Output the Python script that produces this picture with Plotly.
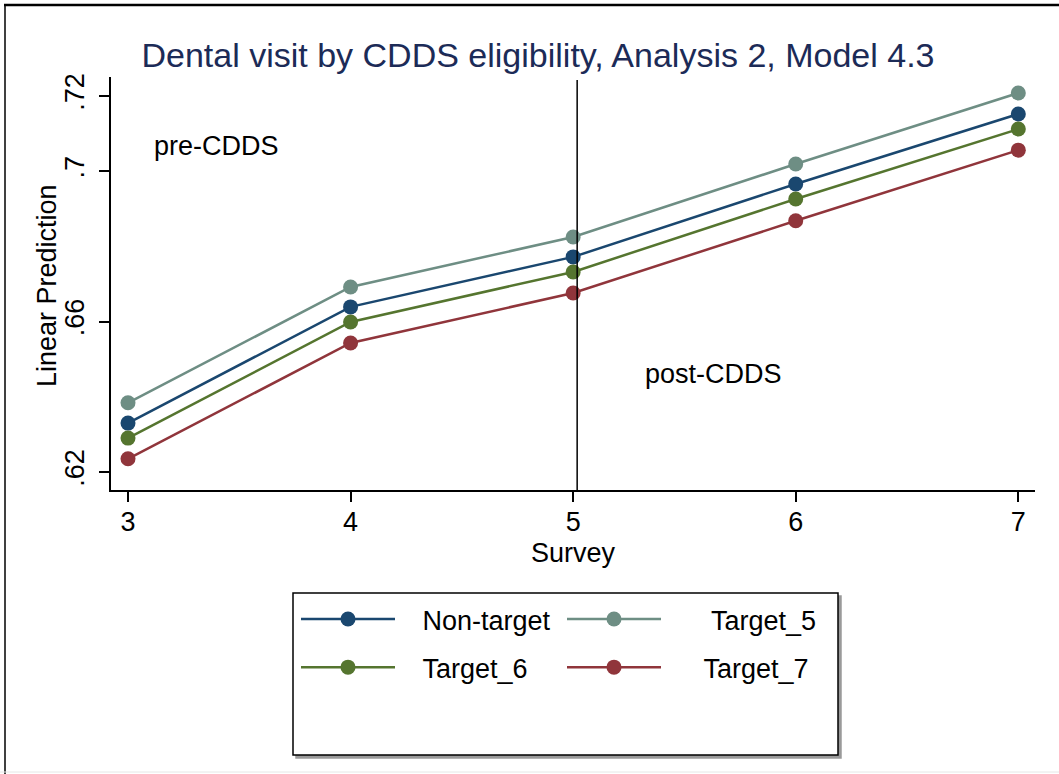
import plotly.graph_objects as go

surveys = [3, 4, 5, 6, 7]
non_target = [0.6330, 0.6639, 0.6772, 0.6966, 0.7152]
target_5 = [0.6384, 0.6692, 0.6825, 0.7019, 0.7208]
target_6 = [0.6290, 0.6599, 0.6732, 0.6926, 0.7112]
target_7 = [0.6235, 0.6543, 0.6676, 0.6868, 0.7056]
y_tickvals = [0.62, 0.66, 0.70, 0.72]
y_ticktext = [".62", ".66", ".7", ".72"]
x_tickvals = [3, 4, 5, 6, 7]
cutoff_survey = 5.018

W, H = 1059, 774
L, R, T, B = 111, 24, 77, 284
PW, PH = W - L - R, H - T - B
FONT = "Liberation Sans, Arial, sans-serif"
FS = 27


def px(x):
    return (x - L) / PW


def py(y):
    return (H - B - y) / PH


NB = "\u00a0"
series = [
    ("Non-target", non_target, "#1a476f", "legend", 3),
    ("Target_5", target_5, "#6e8e84", "legend2", 6),
    ("Target_6", target_6, "#55752f", "legend", 3),
    ("Target_7", target_7, "#90353b", "legend2", 5),
]

fig = go.Figure()
for name, vals, col, lg, pad in series:
    fig.add_trace(go.Scatter(
        x=surveys, y=vals, name=NB * pad + name, mode="lines+markers",
        line=dict(color=col, width=2.5),
        marker=dict(color=col, size=15, line=dict(width=0)),
        legend=lg, legendgroup=name,
    ))

fig.add_shape(type="line", xref="x", yref="paper", x0=cutoff_survey, x1=cutoff_survey,
              y0=0, y1=py(80), line=dict(color="black", width=1.5))

fig.add_annotation(x=3.108, y=0.7067, xref="x", yref="y", text="pre-CDDS",
                   showarrow=False, xanchor="left", yanchor="middle",
                   font=dict(family=FONT, size=FS, color="black"))
fig.add_annotation(x=5.315, y=0.6461, xref="x", yref="y", text="post-CDDS",
                   showarrow=False, xanchor="left", yanchor="middle",
                   font=dict(family=FONT, size=FS, color="black"))

# axis titles
fig.add_annotation(x=px(47), y=py(286), xref="paper", yref="paper",
                   text="Linear Prediction", textangle=-90, showarrow=False,
                   xanchor="center", yanchor="middle",
                   font=dict(family=FONT, size=FS, color="black"))
fig.add_annotation(x=px(573), y=py(553), xref="paper", yref="paper",
                   text="Survey", showarrow=False,
                   xanchor="center", yanchor="middle",
                   font=dict(family=FONT, size=FS, color="black"))

# legend box with shadow
fig.add_shape(type="rect", xref="paper", yref="paper", x0=px(296), x1=px(841),
              y0=py(758), y1=py(596), line=dict(color="#9a9a9a", width=1.5),
              fillcolor="#9a9a9a", layer="below")
fig.add_shape(type="rect", xref="paper", yref="paper", x0=px(293), x1=px(838),
              y0=py(755), y1=py(593), line=dict(color="black", width=1.5),
              fillcolor="white", layer="below")

# outer frame
fig.add_shape(type="line", xref="paper", yref="paper", x0=px(4), x1=px(1062),
              y0=py(5), y1=py(5), line=dict(color="black", width=2.5))
fig.add_shape(type="line", xref="paper", yref="paper", x0=px(5), x1=px(5),
              y0=py(5), y1=py(774), line=dict(color="black", width=1.5))
fig.add_shape(type="line", xref="paper", yref="paper", x0=px(0), x1=px(1059),
              y0=py(772), y1=py(772), line=dict(color="#e6e6e6", width=1))

leg_common = dict(font=dict(family=FONT, size=FS, color="black"),
                  bgcolor="rgba(0,0,0,0)", borderwidth=0, itemwidth=94,
                  tracegroupgap=10, orientation="v", xanchor="left", yanchor="top",
                  itemclick=False, itemdoubleclick=False)

fig.update_layout(
    width=W, height=H,
    margin=dict(l=L, r=R, t=T, b=B, autoexpand=False),
    paper_bgcolor="white", plot_bgcolor="white",
    font=dict(family=FONT, size=FS, color="black"),
    title=dict(text="Dental visit by CDDS eligibility, Analysis 2, Model 4.3",
               x=538 / W, xref="container", xanchor="center",
               y=1 - 55 / H, yref="container", yanchor="middle",
               font=dict(family=FONT, size=34, color="#1c2b57")),
    showlegend=True,
    legend=dict(x=px(296), y=py(595), **leg_common),
    legend2=dict(x=px(562), y=py(595), **leg_common),
    xaxis=dict(range=[2.9236, 7.075], tickvals=x_tickvals, ticks="outside",
               ticklen=10, tickwidth=1.5, tickcolor="black", showline=True,
               linecolor="black", linewidth=1.5, showgrid=False, zeroline=False,
               ticklabelstandoff=-3,
               tickfont=dict(family=FONT, size=FS, color="black")),
    yaxis=dict(range=[0.6152, 0.72505], tickvals=y_tickvals, ticktext=y_ticktext,
               ticks="outside", ticklen=10, tickwidth=1.5, tickcolor="black",
               showline=True, linecolor="black", linewidth=1.5, showgrid=False,
               zeroline=False, tickangle=-90, ticklabelstandoff=4,
               tickfont=dict(family=FONT, size=FS, color="black")),
)

fig.write_html("out.html")
